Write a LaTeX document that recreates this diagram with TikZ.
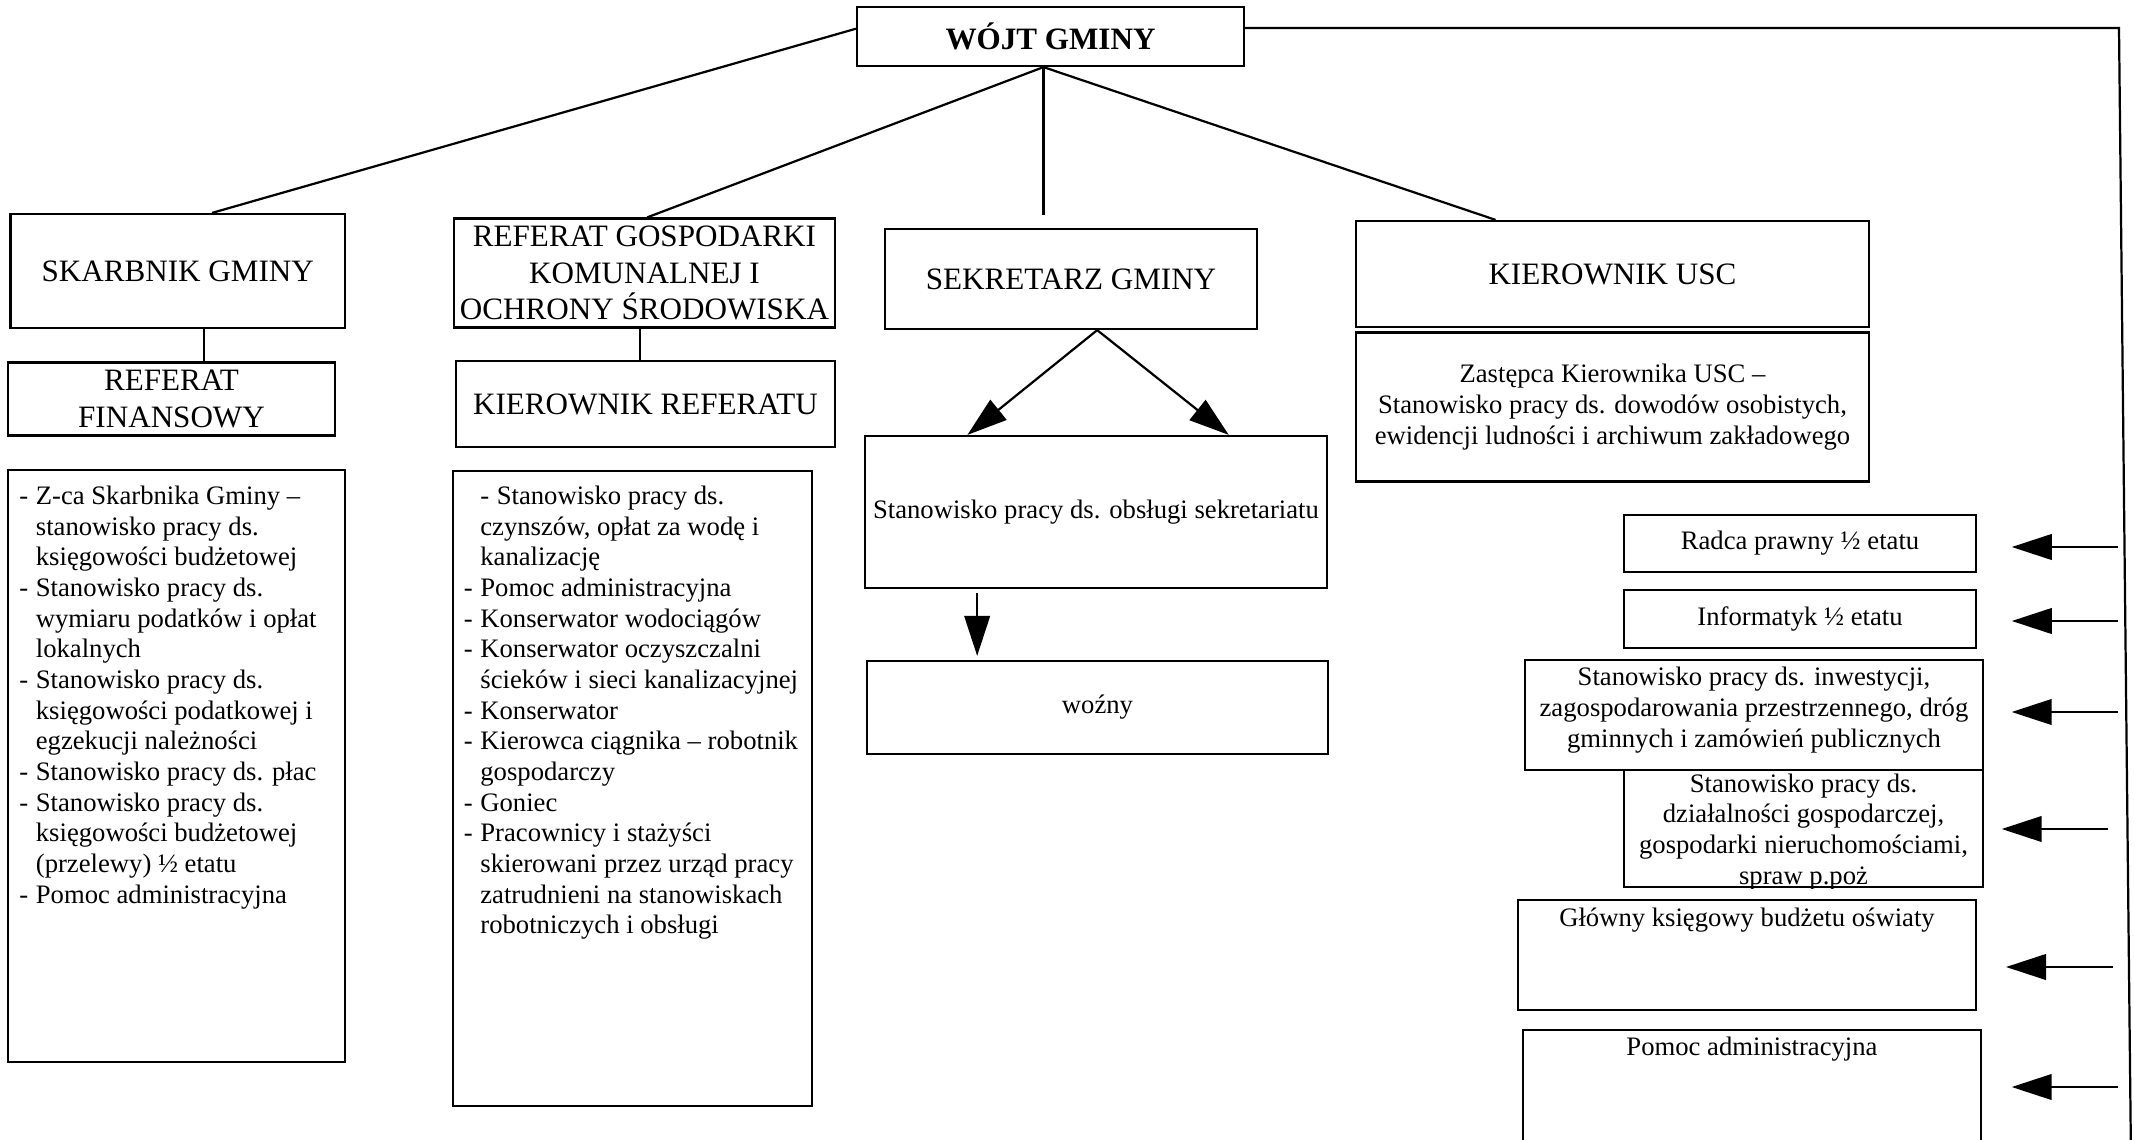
\documentclass[tikz,border=0pt]{standalone}
\usepackage{fontspec}
\setmainfont{Liberation Serif}
\usetikzlibrary{arrows.meta,fit,calc}
\newcommand\lidash{\makebox[7.4pt][l]{-}}
\newcommand\liind{\hspace*{7.4pt}}
\begin{document}
\begin{tikzpicture}[x=0.45pt,y=-0.45pt,
 box/.style={draw,line width=1pt,inner sep=0pt,align=center},
 wh/.style 2 args={minimum width=#1*0.45pt,minimum height=#2*0.45pt},
 hd/.style={font=\fontsize{14}{16.5}\selectfont},
 hdb/.style={font=\fontsize{14}{16.5}\selectfont\bfseries},
 bd/.style={font=\fontsize{12}{13.8}\selectfont},
 txt/.style={inner sep=0pt,align=center},
 lst/.style={inner sep=0pt,align=left,anchor=north west},
 link/.style={line width=1pt},
 arr/.style={line width=1pt,-{Triangle[length=18pt,width=11.5pt]}}]
\useasboundingbox (0,0) rectangle (2134,1140);
\clip (0,0) rectangle (2134,1140);

% boxes
\node[box,hdb,wh={387}{59}] (wojt) at (1050.5,36.5) {WÓJT GMINY};
\node[box,hd,wh={334.5}{114}] (sk) at (177.75,271) {SKARBNIK GMINY};
\node[box,hd,wh={327}{73}] (rf) at (171.5,399) {REFERAT\\FINANSOWY};
\node[box,hd,wh={381}{109}] (rg) at (644.5,273) {REFERAT GOSPODARKI\\KOMUNALNEJ I\\OCHRONY ŚRODOWISKA};
\node[box,hd,wh={379}{86}] (kr) at (645.5,404) {KIEROWNIK REFERATU};
\node[box,hd,wh={372}{100}] (sek) at (1071,279) {SEKRETARZ GMINY};
\node[box,hd,wh={513}{106}] (usc) at (1612.5,274) {KIEROWNIK USC};
\node[box,bd,wh={513}{149}] (zast) at (1612.5,407) {Zastępca Kierownika USC –\\Stanowisko pracy ds. dowodów osobistych,\\ewidencji ludności i archiwum zakładowego};
\node[box,bd,wh={462}{152}] (sekr) at (1096,512) {Stanowisko pracy ds. obsługi sekretariatu};
\node[box,bd,wh={461}{93}] (wozny) at (1097.5,707.5) {woźny};
\node[box,fit={(8,470) (345,1062)}] (lst1) {};
\node[box,fit={(453,471) (812,1106)}] (lst2) {};
\node[box,bd,wh={352}{57}] (radca) at (1800,543.5) {Radca prawny ½ etatu};
\node[box,bd,wh={352}{58}] (info) at (1800,619) {Informatyk ½ etatu};
\node[box,fit={(1525,660) (1983,770)}] (inw) {};
\node[box,fit={(1624,770) (1983,887)}] (dzial) {};
\node[box,fit={(1518,900) (1976,1010)}] (glow) {};
\node[box,fit={(1523,1030) (1981,1160)}] (pom) {};

% texts in right boxes
\node[bd,txt,anchor=north] (inwt) at ($(inw.north)+(0,5)$) {\strut Stanowisko pracy ds. inwestycji,\\zagospodarowania przestrzennego, dróg\\gminnych i zamówień publicznych};
\begin{scope}
\clip (dzial.north west) rectangle (dzial.south east);
\node[bd,txt,anchor=north] (dzialt) at ($(dzial.north)+(0,1.5)$) {\strut Stanowisko pracy ds.\\działalności gospodarczej,\\gospodarki nieruchomościami,\\spraw p.poż};
\end{scope}
\node[bd,txt,anchor=north] (glowt) at ($(glow.north)+(0,5.5)$) {\strut Główny księgowy budżetu oświaty};
\node[bd,txt,anchor=north] (pomt) at ($(pom.north)+(0,4.5)$) {\strut Pomoc administracyjna};

% lists
\node[bd,lst] (l1t) at (19,482.5) {\strut\lidash Z-ca Skarbnika Gminy –\\
\liind stanowisko pracy ds.\\
\liind księgowości budżetowej\\
\lidash Stanowisko pracy ds.\\
\liind wymiaru podatków i opłat\\
\liind lokalnych\\
\lidash Stanowisko pracy ds.\\
\liind księgowości podatkowej i\\
\liind egzekucji należności\\
\lidash Stanowisko pracy ds. płac\\
\lidash Stanowisko pracy ds.\\
\liind księgowości budżetowej\\
\liind (przelewy) ½ etatu\\
\lidash Pomoc administracyjna};
\node[bd,lst] (l2t) at (463.5,482.5) {\strut\liind\lidash Stanowisko pracy ds.\\
\liind czynszów, opłat za wodę i\\
\liind kanalizację\\
\lidash Pomoc administracyjna\\
\lidash Konserwator wodociągów\\
\lidash Konserwator oczyszczalni\\
\liind ścieków i sieci kanalizacyjnej\\
\lidash Konserwator\\
\lidash Kierowca ciągnika – robotnik\\
\liind gospodarczy\\
\lidash Goniec\\
\lidash Pracownicy i stażyści\\
\liind skierowani przez urząd pracy\\
\liind zatrudnieni na stanowiskach\\
\liind robotniczych i obsługi};

% connectors from the head
\coordinate (wl) at ($(wojt.north west)!0.373!(wojt.south west)$);
\coordinate (apex) at ($(wojt.south west)!0.482!(wojt.south east)$);
\draw[link] (wl) -- ($(sk.north west)!0.602!(sk.north east)$);
\draw[link] (apex) -- ($(rg.north west)!0.507!(rg.north east)$);
\draw[link,shorten >=5.85pt] (apex) -- (apex |- sek.north);
\draw[link] (apex) -- ($(usc.north west)!0.273!(usc.north east)$);

\coordinate (p1) at ($(sk.south west)!0.577!(sk.south east)$);
\draw[link] (p1) -- (p1 |- rf.north);
\coordinate (p2) at ($(rg.south west)!0.488!(rg.south east)$);
\draw[link] (p2) -- (p2 |- kr.north);

% secretary arrows
\coordinate (s0) at ($(sek.south west)!0.570!(sek.south east)$);
\coordinate (t1) at ($(sekr.north west)!0.223!(sekr.north east)$);
\coordinate (t2) at ($(sekr.north west)!0.786!(sekr.north east)$);
\draw[arr] (s0) -- (t1);
\draw[arr] (s0) -- (t2);
\coordinate (wx) at ($(sekr.south west)!0.244!(sekr.south east)$);
\draw[arr,shorten <=1.8pt,shorten >=1.8pt] (wx) -- (wx |- wozny.north);

% right side line and arrows
\coordinate (c1) at (2119,28);
\coordinate (c2) at (2131,1160);
\draw[link] (wojt.east |- c1) -- (c1) -- (c2);
\coordinate (a1) at (2118,547);
\coordinate (a2) at (2118,621);
\coordinate (a3) at (2118,712);
\coordinate (a4) at (2108,829);
\coordinate (a5) at (2113,967);
\coordinate (a6) at (2118,1087);
\draw[arr,shorten >=15.6pt] (a1) -- (radca.east |- a1);
\draw[arr,shorten >=15.6pt] (a2) -- (info.east |- a2);
\draw[arr,shorten >=12.4pt] (a3) -- (inw.east |- a3);
\draw[arr,shorten >=7.9pt] (a4) -- (dzial.east |- a4);
\draw[arr,shorten >=13pt] (a5) -- (glow.east |- a5);
\draw[arr,shorten >=13.3pt] (a6) -- (pom.east |- a6);
\end{tikzpicture}
\end{document}
